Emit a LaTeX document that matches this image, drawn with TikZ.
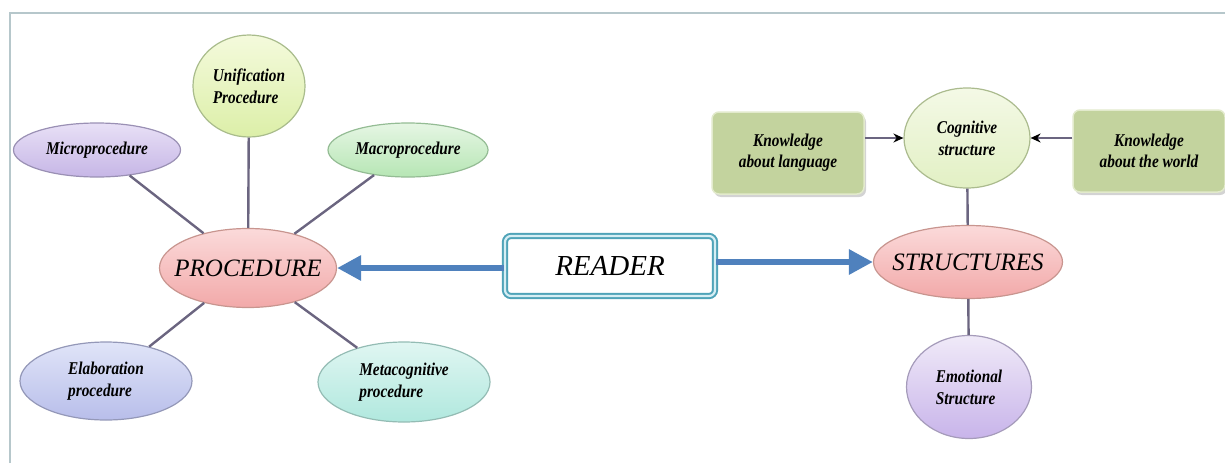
\documentclass[tikz,border=0pt]{standalone}
\usepackage{fontspec}
\setmainfont{Liberation Serif}
\newfontfamily\narrowserif[FakeStretch=0.85]{Liberation Serif}
\usepackage{xcolor}
\usetikzlibrary{shapes.geometric,arrows.meta,shadows}
\definecolor{framegray}{HTML}{B6C7CB}
\definecolor{spokecol}{HTML}{6B6580}
\definecolor{readerblue}{HTML}{4F81BD}
\definecolor{readerteal}{HTML}{4FA3B8}
\definecolor{readerpale}{HTML}{D6EEF4}
\definecolor{unitop}{HTML}{F4FADC}
\definecolor{unibot}{HTML}{DCEFA8}
\definecolor{uniedge}{HTML}{A9BC8C}
\definecolor{mictop}{HTML}{E8E0F6}
\definecolor{micbot}{HTML}{C6B6E6}
\definecolor{micedge}{HTML}{9A90B4}
\definecolor{mactop}{HTML}{E6F6E4}
\definecolor{macbot}{HTML}{B6E6B4}
\definecolor{macedge}{HTML}{94BC94}
\definecolor{pinktop}{HTML}{FBDADA}
\definecolor{pinkbot}{HTML}{F2A9A9}
\definecolor{pinkedge}{HTML}{C8958F}
\definecolor{elatop}{HTML}{E0E4F8}
\definecolor{elabot}{HTML}{B8BEEA}
\definecolor{elaedge}{HTML}{9498B8}
\definecolor{metatop}{HTML}{E0F6F2}
\definecolor{metabot}{HTML}{B0E8DE}
\definecolor{metaedge}{HTML}{94BCB4}
\definecolor{cogtop}{HTML}{F4F9E6}
\definecolor{cogbot}{HTML}{E2F0C4}
\definecolor{cogedge}{HTML}{ABBB8E}
\definecolor{emotop}{HTML}{F0EAF8}
\definecolor{emobot}{HTML}{C8B4EA}
\definecolor{emoedge}{HTML}{A59BBA}
\definecolor{knowfill}{HTML}{C3D39E}
\definecolor{knowedge}{HTML}{E2EACC}

\begin{document}
\begin{tikzpicture}[x=1pt, y=-1pt, >=stealth,
		bubble/.style={ellipse, inner sep=0pt, line width=1.2pt, align=center, font=\narrowserif\fontsize{18}{22}\selectfont\bfseries\itshape},
		bigbubble/.style={bubble, font=\fontsize{25}{28}\selectfont\itshape},
		knowbox/.style={rectangle, rounded corners=7pt, fill=knowfill, draw=knowedge, line width=1.5pt, minimum width=152pt, minimum height=82pt, align=center, font=\narrowserif\fontsize{18}{21}\selectfont\bfseries\itshape, drop shadow={opacity=0.35, shadow xshift=2pt, shadow yshift=-3pt}},
		readerbox/.style={rectangle, rounded corners=6pt, fill=white, draw=readerteal, double=readerpale, double distance=2.2pt, line width=2pt, minimum width=210pt, minimum height=60pt, font=\fontsize{29}{32}\selectfont\itshape},
		spoke/.style={draw=spokecol, line width=2.4pt},
		bigarrow/.style={draw=readerblue, line width=6pt, -{Triangle[length=24pt, width=24pt]}},
		smallarrow/.style={draw=spokecol, line width=1.6pt, -{Stealth[black, length=10pt, width=9pt]}}]
		\useasboundingbox (0,0) rectangle (1225,463);
		\draw[framegray, line width=2.2pt] (10,463) -- (10,13) -- (1225,13);
		\node[bubble, top color=unitop, bottom color=unibot, draw=uniedge, minimum width=112pt, minimum height=102pt, align=left] (unif) at (249,86) {Unification\\Procedure};
		\node[bubble, top color=mictop, bottom color=micbot, draw=micedge, minimum width=167pt, minimum height=54pt] (micro) at (97,150) {Microprocedure};
		\node[bubble, top color=mactop, bottom color=macbot, draw=macedge, minimum width=160pt, minimum height=54pt] (macro) at (408,150) {Macroprocedure};
		\node[bigbubble, top color=pinktop, bottom color=pinkbot, draw=pinkedge, minimum width=177pt, minimum height=79pt] (proc) at (248,268) {\makebox[0pt]{PROCEDURE}};
		\node[bubble, top color=elatop, bottom color=elabot, draw=elaedge, minimum width=172pt, minimum height=78pt, align=left] (elab) at (106,381) {Elaboration\\procedure};
		\node[bubble, top color=metatop, bottom color=metabot, draw=metaedge, minimum width=172pt, minimum height=80pt, align=left] (meta) at (404,382) {Metacognitive\\procedure};
		\node[readerbox] (reader) at (610,266) {READER};
		\node[bigbubble, top color=pinktop, bottom color=pinkbot, draw=pinkedge, minimum width=189pt, minimum height=73pt] (struct) at (968,262) {\makebox[0pt]{STRUCTURES}};
		\node[bubble, top color=cogtop, bottom color=cogbot, draw=cogedge, minimum width=126pt, minimum height=100pt] (cogn) at (967,138) {Cognitive\\structure};
		\node[bubble, top color=emotop, bottom color=emobot, draw=emoedge, minimum width=125pt, minimum height=103pt, align=left] (emot) at (969,387) {Emotional\\Structure};
		\node[knowbox] (klang) at (788,153) {Knowledge\\about language};
		\node[knowbox] (kworld) at (1149,151) {Knowledge\\about the world};
		\draw[spoke] (proc) -- (micro);
		\draw[spoke] (proc) -- (unif);
		\draw[spoke] (proc) -- (macro);
		\draw[spoke] (proc) -- (elab);
		\draw[spoke] (proc) -- (meta);
		\draw[spoke] (struct) -- (cogn);
		\draw[spoke] (struct) -- (emot);
		\draw[bigarrow] (reader.west |- proc.east) -- (proc.east);
		\draw[bigarrow] (reader.east |- struct.west) -- (struct.west);
		\draw[smallarrow] (klang.east |- cogn.west) -- (cogn.west);
		\draw[smallarrow] (kworld.west |- cogn.east) -- (cogn.east);
	\end{tikzpicture}
\end{document}
